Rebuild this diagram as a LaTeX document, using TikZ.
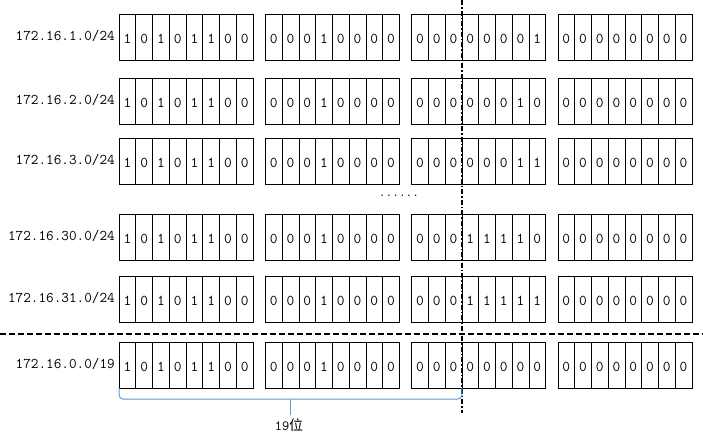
\documentclass[tikz,border=0pt]{standalone}
\usepackage{fontspec}
\newfontfamily\cjk{Noto Sans CJK SC}
\usepackage{xcolor}
\usetikzlibrary{positioning,calc}
\definecolor{braceblue}{HTML}{5B9BD5}

\begin{document}
\begin{tikzpicture}[
    x=1pt, y=-1pt,
    bitcell/.style={rectangle, draw, line width=0.6pt, minimum width=16.75pt, minimum height=46pt, inner sep=0pt, outer sep=0pt, text height=13pt, text depth=0pt, font=\ttfamily\fontsize{15}{15}\selectfont},
    netlabel/.style={anchor=east, inner sep=0pt, font=\ttfamily\fontsize{14.8}{14.8}\selectfont},
    cutline/.style={line width=1.6pt, dash pattern=on 6pt off 3pt},
    prefixline/.style={line width=1.6pt, dash pattern=on 5pt off 2pt on 1.5pt off 2pt},
    bitbrace/.style={draw=braceblue, line width=1pt, rounded corners=4pt}
]
    \useasboundingbox (0,0) rectangle (703,437);

    % one row per network: number / centre y / label / third octet
    \foreach \r/\yc/\lab/\bitsc in {1/37/{172.16.1.0/24}/{0,0,0,0,0,0,0,1},
                                    2/101/{172.16.2.0/24}/{0,0,0,0,0,0,1,0},
                                    3/161/{172.16.3.0/24}/{0,0,0,0,0,0,1,1},
                                    4/237/{172.16.30.0/24}/{0,0,0,1,1,1,1,0},
                                    5/299/{172.16.31.0/24}/{0,0,0,1,1,1,1,1},
                                    6/365/{172.16.0.0/19}/{0,0,0,0,0,0,0,0}} {
        \node[netlabel] (lab\r) at (115,\yc-1) {\lab};
        \foreach \b [count=\k] in {1,0,1,0,1,1,0,0}
            \node[bitcell] (c\r-1-\k) at ({119+16.75*(\k-0.5)},\yc) {\b};
        \foreach \b [count=\k] in {0,0,0,1,0,0,0,0}
            \node[bitcell] (c\r-2-\k) at ({265.3+16.75*(\k-0.5)},\yc) {\b};
        \foreach \b [count=\k] in \bitsc
            \node[bitcell] (c\r-3-\k) at ({411.6+16.75*(\k-0.5)},\yc) {\b};
        \foreach \k in {1,...,8}
            \node[bitcell] (c\r-4-\k) at ({557.9+16.75*(\k-0.5)},\yc) {0};
    }

    \node[font=\ttfamily\fontsize{13}{13}\selectfont, inner sep=0pt] (gapdots) at (399,196) {......};

    % summary cut and prefix boundary
    \coordinate (cutl) at (0,334);
    \coordinate (cutr) at (703,334);
    \draw[cutline] (cutl) -- (cutr);
    \coordinate (vtop) at (c1-3-3.east |- 0,0);
    \coordinate (vbot) at (c1-3-3.east |- 0,413);
    \draw[prefixline] (vtop) -- (vbot);

    % 19-bit prefix brace
    \coordinate (brmid) at ($(c6-1-1.south west)!0.5!(c6-3-3.south east)+(0,11)$);
    \coordinate (brtip) at ($(brmid)+(0,16)$);
    \draw[bitbrace] (c6-1-1.south west) |- (brmid);
    \draw[bitbrace] (c6-3-3.south east) |- (brmid);
    \draw[bitbrace] (brmid) -- (brtip);
    \node[inner sep=0pt, font=\ttfamily\fontsize{14}{14}\selectfont] (len19) at (289,425) {19{\cjk 位}};
\end{tikzpicture}
\end{document}
